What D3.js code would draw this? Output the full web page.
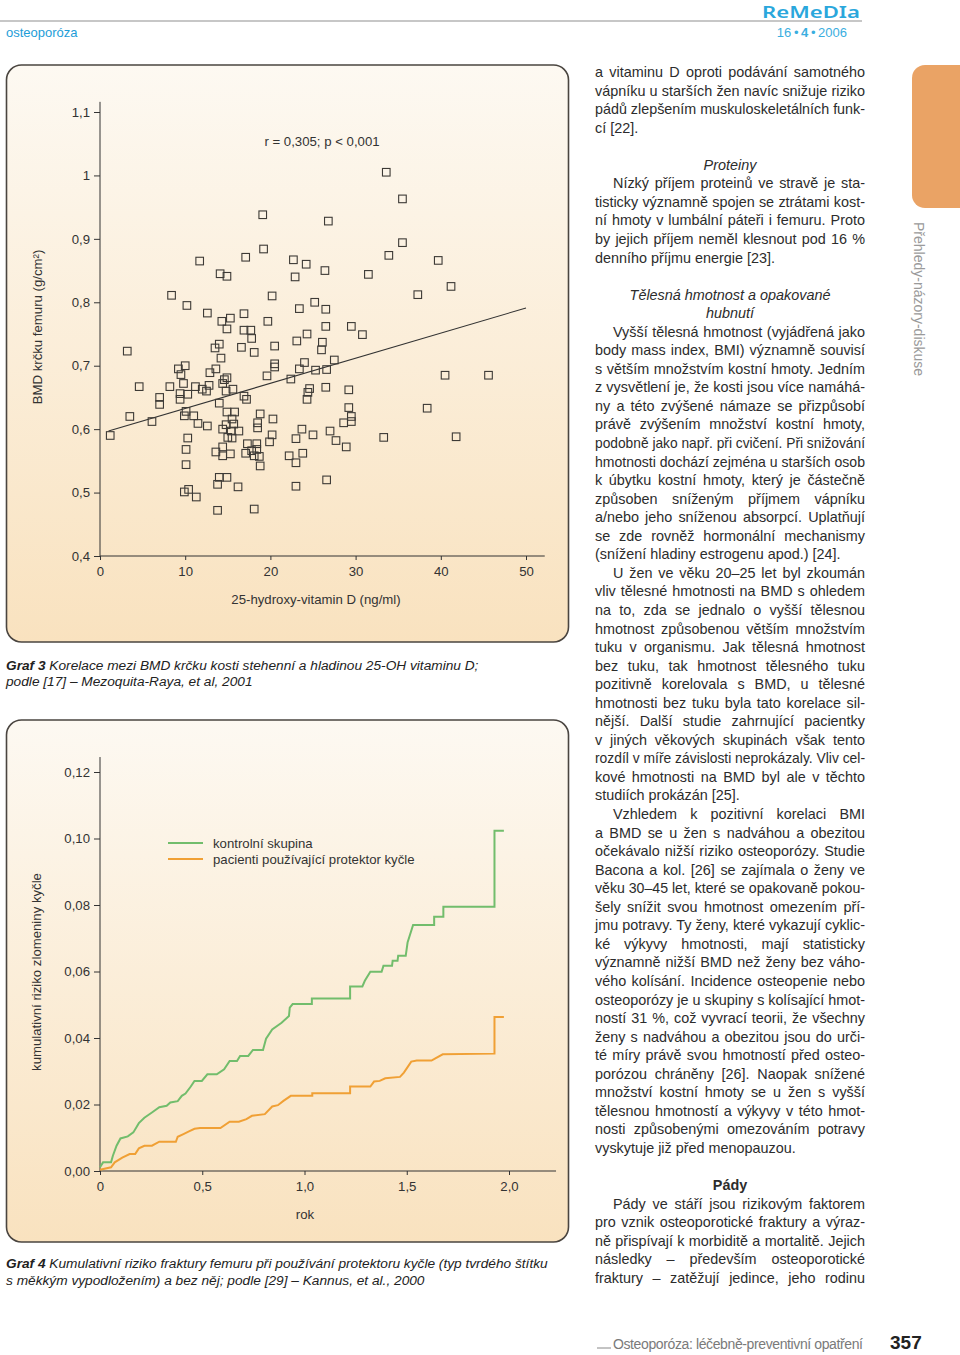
<!DOCTYPE html>
<html>
<head>
<meta charset="utf-8">
<title>Osteoporóza - Graf 3 a Graf 4</title>
<script src="https://cdn.jsdelivr.net/npm/d3@7"></script>
<style>
  body { margin: 0; background: #fff; }
  svg { display: block; font-family: "Liberation Sans", Arial, sans-serif; }
</style>
</head>
<body>
<svg id="page" width="960" height="1355"></svg>
<script>

// ---- Graf 3: BMD vs 25-OH vitamin D ----
let vitaminD = [33.6,35.5,19.1,26.8,35.5,19.2,33.9,11.7,17.1,22.7,24.2,39.7,14.1,14.9,22.9,26.4,31.5,37.3,41.2,8.4,
  20.2,10.2,25.2,12.6,16.9,23.4,26.5,14.3,15.3,19.7,14.9,16.9,17.7,17.8,26.5,29.5,30.8,3.2,14.0,13.5,
  16.6,18.1,20.5,23.1,24.3,26.1,26.0,14.2,27.5,9.2,10.0,9.5,12.9,13.6,20.5,20.5,24.0,23.4,25.3,26.6,
  19.6,22.4,40.5,45.6,4.6,8.2,9.8,11.2,12.0,12.8,14.4,14.6,14.9,12.5,9.4,10.3,14.8,15.6,7.0,7.0,
  9.4,16.9,17.2,24.6,24.4,24.3,26.5,29.2,14.0,3.5,6.1,9.9,10.1,11.0,11.5,12.6,14.9,15.8,15.5,14.8,
  15.7,14.4,15.4,16.3,18.8,18.5,18.5,20.3,29.2,29.5,29.5,28.6,38.4,1.2,10.3,15.0,15.5,23.7,27.0,25.0,
  20.2,19.9,23.0,27.7,28.9,33.3,41.8,10.1,14.4,13.6,14.4,15.3,17.3,18.4,17.1,17.8,18.1,18.7,18.4,22.2,
  23.0,23.8,10.1,18.8,14.0,14.9,13.8,16.2,23.0,26.6,9.9,10.4,11.3,13.8,18.1];
let bmd = [1.005,0.963,0.938,0.928,0.894,0.884,0.874,0.865,0.871,0.867,0.860,0.866,0.845,0.841,0.840,0.850,0.844,0.812,0.825,0.811,
  0.810,0.795,0.800,0.783,0.782,0.790,0.789,0.770,0.775,0.770,0.758,0.756,0.756,0.743,0.762,0.762,0.749,0.723,0.734,0.728,
  0.729,0.721,0.731,0.739,0.750,0.737,0.725,0.712,0.709,0.695,0.700,0.686,0.689,0.695,0.703,0.698,0.705,0.695,0.693,0.694,
  0.684,0.679,0.685,0.685,0.667,0.667,0.672,0.667,0.663,0.669,0.672,0.678,0.681,0.660,0.656,0.655,0.660,0.663,0.650,0.639,
  0.647,0.652,0.647,0.664,0.658,0.647,0.666,0.662,0.641,0.620,0.612,0.621,0.628,0.621,0.609,0.605,0.627,0.627,0.616,0.607,
  0.608,0.600,0.597,0.597,0.624,0.610,0.602,0.616,0.634,0.620,0.612,0.610,0.633,0.590,0.586,0.587,0.586,0.600,0.597,0.591,
  0.591,0.580,0.585,0.582,0.572,0.587,0.588,0.568,0.572,0.564,0.558,0.561,0.577,0.577,0.562,0.566,0.558,0.557,0.568,0.558,
  0.547,0.562,0.544,0.542,0.524,0.524,0.513,0.509,0.510,0.520,0.501,0.505,0.493,0.472,0.474];
let fitX = [1, 50];
let fitY = [0.597, 0.791];
let scatterXTicks = [0, 10, 20, 30, 40, 50];
let scatterYTicks = [0.4, 0.5, 0.6, 0.7, 0.8, 0.9, 1.0, 1.1];
let scatterYLabels = ["0,4", "0,5", "0,6", "0,7", "0,8", "0,9", "1", "1,1"];

// ---- Graf 4: cumulative hip fracture risk (curve vertices) ----
let controlYears = [0,0.015,0.054,0.063,0.081,0.1,0.136,0.163,0.19,0.217,0.254,0.29,0.326,0.344,0.38,0.4,0.418,0.444,0.462,0.498,
  0.525,0.571,0.607,0.634,0.67,0.685,0.725,0.748,0.797,0.812,0.842,0.888,0.924,0.928,0.942,1.036,1.036,1.223,1.223,1.283,
  1.295,1.322,1.377,1.386,1.428,1.431,1.455,1.458,1.495,1.504,1.531,1.634,1.634,1.679,1.679,1.929,1.929,1.975];
let controlRisk = [0.0011,0.0026,0.0026,0.0046,0.0076,0.0098,0.0104,0.0116,0.0144,0.016,0.0176,0.0192,0.0196,0.0206,0.021,0.0226,0.0233,0.0254,0.0271,0.0271,
  0.0291,0.0291,0.0306,0.0331,0.0331,0.0346,0.0346,0.0364,0.0364,0.0398,0.0426,0.0446,0.0466,0.0491,0.0502,0.0502,0.0519,0.0519,0.0555,0.0555,
  0.0572,0.0599,0.0599,0.0617,0.0617,0.0632,0.0632,0.0647,0.0647,0.0687,0.074,0.074,0.0765,0.0765,0.0795,0.0795,0.1023,0.1023];
let protectorYears = [0,0.054,0.072,0.109,0.145,0.172,0.19,0.217,0.254,0.29,0.371,0.38,0.408,0.435,0.462,0.489,0.589,0.634,0.679,0.716,
  0.743,0.806,0.842,0.87,0.897,0.933,1.038,1.038,1.223,1.223,1.322,1.34,1.368,1.395,1.467,1.486,1.522,1.549,1.621,1.64,
  1.676,1.929,1.929,1.975];
let protectorRisk = [0.0004,0.0011,0.0026,0.004,0.0051,0.0051,0.0068,0.0076,0.0076,0.0088,0.0088,0.0103,0.0111,0.0119,0.0127,0.0129,0.0129,0.0148,0.0148,0.0156,
  0.0166,0.0171,0.0194,0.0198,0.0211,0.0226,0.0226,0.0234,0.0234,0.0254,0.0254,0.0269,0.0271,0.0279,0.0283,0.0296,0.0329,0.0332,0.0332,0.0339,
  0.0351,0.0353,0.0463,0.0463];
let riskXTicks = [0, 0.5, 1, 1.5, 2];
let riskXLabels = ["0", "0,5", "1,0", "1,5", "2,0"];
let riskYTicks = [0, 0.02, 0.04, 0.06, 0.08, 0.10, 0.12];
let riskYLabels = ["0,00", "0,02", "0,04", "0,06", "0,08", "0,10", "0,12"];
let seriesNames = ["kontrolní skupina", "pacienti používající protektor kyčle"];
let seriesColors = ["#72bd6c", "#f0a035"];

// ---- article column text ----
let columnLines = [
  ["a vitaminu D oproti podávání samotného","j"],
  ["vápníku u starších žen navíc snižuje riziko","j"],
  ["pádů zlepšením muskuloskeletálních funk-","j"],
  ["cí [22].","e"],
  ["",""],
  ["Proteiny","h"],
  ["Nízký příjem proteinů ve stravě je sta-","i"],
  ["tisticky významně spojen se ztrátami kost-","j"],
  ["ní hmoty v lumbální páteři i femuru. Proto","j"],
  ["by jejich příjem neměl klesnout pod 16 %","j"],
  ["denního příjmu energie [23].","e"],
  ["",""],
  ["Tělesná hmotnost a opakované","h"],
  ["hubnutí","h"],
  ["Vyšší tělesná hmotnost (vyjádřená jako","i"],
  ["body mass index, BMI) významně souvisí","j"],
  ["s větším množstvím kostní hmoty. Jedním","j"],
  ["z vysvětlení je, že kosti jsou více namáhá-","j"],
  ["ny a této zvýšené námaze se přizpůsobí","j"],
  ["právě zvýšením množství kostní hmoty,","j"],
  ["podobně jako např. při cvičení. Při snižování","j"],
  ["hmotnosti dochází zejména u starších osob","j"],
  ["k úbytku kostní hmoty, který je částečně","j"],
  ["způsoben sníženým příjmem vápníku","j"],
  ["a/nebo jeho sníženou absorpcí. Uplatňují","j"],
  ["se zde rovněž hormonální mechanismy","j"],
  ["(snížení hladiny estrogenu apod.) [24].","e"],
  ["U žen ve věku 20–25 let byl zkoumán","i"],
  ["vliv tělesné hmotnosti na BMD s ohledem","j"],
  ["na to, zda se jednalo o vyšší tělesnou","j"],
  ["hmotnost způsobenou větším množstvím","j"],
  ["tuku v organismu. Jak tělesná hmotnost","j"],
  ["bez tuku, tak hmotnost tělesného tuku","j"],
  ["pozitivně korelovala s BMD, u tělesné","j"],
  ["hmotnosti bez tuku byla tato korelace sil-","j"],
  ["nější. Další studie zahrnující pacientky","j"],
  ["v jiných věkových skupinách však tento","j"],
  ["rozdíl v míře závislosti neprokázaly. Vliv cel-","j"],
  ["kové hmotnosti na BMD byl ale v těchto","j"],
  ["studiích prokázán [25].","e"],
  ["Vzhledem k pozitivní korelaci BMI","i"],
  ["a BMD se u žen s nadváhou a obezitou","j"],
  ["očekávalo nižší riziko osteoporózy. Studie","j"],
  ["Bacona a kol. [26] se zajímala o ženy ve","j"],
  ["věku 30–45 let, které se opakovaně pokou-","j"],
  ["šely snížit svou hmotnost omezením pří-","j"],
  ["jmu potravy. Ty ženy, které vykazují cyklic-","j"],
  ["ké výkyvy hmotnosti, mají statisticky","j"],
  ["významně nižší BMD než ženy bez váho-","j"],
  ["vého kolísání. Incidence osteopenie nebo","j"],
  ["osteoporózy je u skupiny s kolísající hmot-","j"],
  ["ností 31 %, což vyvrací teorii, že všechny","j"],
  ["ženy s nadváhou a obezitou jsou do urči-","j"],
  ["té míry právě svou hmotností před osteo-","j"],
  ["porózou chráněny [26]. Naopak snížené","j"],
  ["množství kostní hmoty se u žen s vyšší","j"],
  ["tělesnou hmotností a výkyvy v této hmot-","j"],
  ["nosti způsobenými omezováním potravy","j"],
  ["vyskytuje již před menopauzou.","e"],
  ["",""],
  ["Pády","b"],
  ["Pády ve stáří jsou rizikovým faktorem","i"],
  ["pro vznik osteoporotické fraktury a výraz-","j"],
  ["ně přispívají k morbiditě a mortalitě. Jejich","j"],
  ["následky – především osteoporotické","j"],
  ["fraktury – zatěžují jedince, jeho rodinu","j"]
];

let svg = d3.select("#page");
let ink = "#333";
let chartFont = 13.2;

// panel background gradient
let defs = svg.append("defs");
let grad = defs.append("linearGradient").attr("id", "panelFill")
  .attr("x1", 0).attr("y1", 0).attr("x2", 0).attr("y2", 1);
grad.append("stop").attr("offset", "0%").attr("stop-color", "#fdf9f2");
grad.append("stop").attr("offset", "100%").attr("stop-color", "#f9e2bf");

function panel(top, bottom) {
  svg.append("rect").attr("x", 6.5).attr("y", top).attr("width", 562).attr("height", bottom - top)
    .attr("rx", 15).attr("fill", "url(#panelFill)").attr("stroke", "#4a4540").attr("stroke-width", 1.6);
}

function styleAxis(g) {
  g.select(".domain").remove();
  g.selectAll("line").attr("stroke", ink);
  g.selectAll("text").attr("font-size", chartFont).attr("fill", ink)
    .attr("font-family", "Liberation Sans, Arial, sans-serif");
}

// ---------- header ----------
svg.append("text").attr("x", 762).attr("y", 18).attr("font-family", "Noto Sans, sans-serif")
  .attr("font-size", 16).attr("font-weight", 600).attr("fill", "#2aa7dc")
  .attr("textLength", 98).attr("lengthAdjust", "spacingAndGlyphs").text("ReMeDIa");
svg.append("line").attr("x1", 0).attr("x2", 862).attr("y1", 21).attr("y2", 21)
  .attr("stroke", "#b5b5b5").attr("stroke-width", 1.5);
svg.append("text").attr("x", 6).attr("y", 37).attr("font-size", 13).attr("fill", "#1d9dd8").text("osteoporóza");
let issue = svg.append("text").attr("x", 847).attr("y", 37).attr("text-anchor", "end")
  .attr("font-size", 13).attr("fill", "#3aaee0");
issue.append("tspan").text("16\u2009•\u2009");
issue.append("tspan").attr("font-weight", "bold").text("4");
issue.append("tspan").text("\u2009•\u20092006");

// ---------- Graf 3 ----------
panel(65, 642);
let x1 = d3.scaleLinear().domain([0, 50]).range([100, 526]);
let y1 = d3.scaleLinear().domain([0.4, 1.1]).range([556, 112]);

svg.append("line").attr("x1", x1(0)).attr("x2", x1(52.2)).attr("y1", y1(0.4)).attr("y2", y1(0.4)).attr("stroke", ink);
svg.append("line").attr("x1", x1(0)).attr("x2", x1(0)).attr("y1", y1(0.4)).attr("y2", y1(1.116)).attr("stroke", ink);

svg.append("g").attr("transform", "translate(0," + y1(0.4) + ")")
  .call(d3.axisBottom(x1).tickValues(scatterXTicks).tickFormat(d3.format("d")).tickSize(4).tickPadding(7))
  .call(styleAxis);
svg.append("g").attr("transform", "translate(" + x1(0) + ",0)")
  .call(d3.axisLeft(y1).tickValues(scatterYTicks).tickFormat((d, i) => scatterYLabels[i]).tickSize(6).tickPadding(4))
  .call(styleAxis);

svg.append("line").attr("x1", x1(fitX[0])).attr("y1", y1(fitY[0]))
  .attr("x2", x1(fitX[1])).attr("y2", y1(fitY[1])).attr("stroke", ink).attr("stroke-width", 1.1);

svg.append("g").selectAll("rect").data(vitaminD).enter().append("rect")
  .attr("x", d => x1(d) - 3.8).attr("y", (d, i) => y1(bmd[i]) - 3.8)
  .attr("width", 7.6).attr("height", 7.6)
  .attr("fill", "none").attr("stroke", "#3d3a36").attr("stroke-width", 1.1);

svg.append("text").attr("x", 322).attr("y", 146).attr("text-anchor", "middle")
  .attr("font-size", chartFont).attr("fill", ink).text("r = 0,305; p < 0,001");
svg.append("text").attr("x", 316).attr("y", 604).attr("text-anchor", "middle")
  .attr("font-size", chartFont).attr("fill", ink).text("25-hydroxy-vitamin D (ng/ml)");
svg.append("text").attr("transform", "translate(42,327) rotate(-90)").attr("text-anchor", "middle")
  .attr("font-size", chartFont).attr("fill", ink).text("BMD krčku femuru (g/cm²)");

let cap3 = svg.append("text").attr("x", 6).attr("y", 670).attr("font-size", 13.7)
  .attr("font-style", "italic").attr("fill", "#222");
cap3.append("tspan").attr("font-weight", "bold").text("Graf 3");
cap3.append("tspan").text("  Korelace mezi BMD krčku kosti stehenní a hladinou 25-OH vitaminu D;");
svg.append("text").attr("x", 6).attr("y", 686).attr("font-size", 13.7).attr("font-style", "italic")
  .attr("fill", "#222").text("podle [17] – Mezoquita-Raya, et al, 2001");

// ---------- Graf 4 ----------
panel(720, 1242);
let x2 = d3.scaleLinear().domain([0, 2]).range([100, 509]);
let y2 = d3.scaleLinear().domain([0, 0.12]).range([1171, 772]);

svg.append("line").attr("x1", x2(0)).attr("x2", x2(2.23)).attr("y1", y2(0)).attr("y2", y2(0)).attr("stroke", ink);
svg.append("line").attr("x1", x2(0)).attr("x2", x2(0)).attr("y1", y2(0)).attr("y2", y2(0.1245)).attr("stroke", ink);

svg.append("g").attr("transform", "translate(0," + y2(0) + ")")
  .call(d3.axisBottom(x2).tickValues(riskXTicks).tickFormat((d, i) => riskXLabels[i]).tickSize(4).tickPadding(7))
  .call(styleAxis);
svg.append("g").attr("transform", "translate(" + x2(0) + ",0)")
  .call(d3.axisLeft(y2).tickValues(riskYTicks).tickFormat((d, i) => riskYLabels[i]).tickSize(6).tickPadding(4))
  .call(styleAxis);

let riskLine = d3.line().x(d => x2(d[0])).y(d => y2(d[1]));
svg.append("path").datum(d3.zip(protectorYears, protectorRisk)).attr("d", riskLine).attr("fill", "none")
  .attr("stroke", seriesColors[1]).attr("stroke-width", 2).attr("stroke-linejoin", "miter");
svg.append("path").datum(d3.zip(controlYears, controlRisk)).attr("d", riskLine).attr("fill", "none")
  .attr("stroke", seriesColors[0]).attr("stroke-width", 2).attr("stroke-linejoin", "miter");

let legend = svg.append("g").selectAll("g").data(seriesNames).enter().append("g")
  .attr("transform", (d, i) => "translate(168," + (843 + i * 16) + ")");
legend.append("line").attr("x1", 0).attr("x2", 35).attr("stroke", (d, i) => seriesColors[i]).attr("stroke-width", 2);
legend.append("text").attr("x", 45).attr("y", 5).attr("font-size", chartFont).attr("fill", ink).text(d => d);

svg.append("text").attr("x", 305).attr("y", 1219).attr("text-anchor", "middle")
  .attr("font-size", chartFont).attr("fill", ink).text("rok");
svg.append("text").attr("transform", "translate(41,972) rotate(-90)").attr("text-anchor", "middle")
  .attr("font-size", chartFont).attr("fill", ink).text("kumulativní riziko zlomeniny kyčle");

let cap4 = svg.append("text").attr("x", 6).attr("y", 1268).attr("font-size", 13.7)
  .attr("font-style", "italic").attr("fill", "#222");
cap4.append("tspan").attr("font-weight", "bold").text("Graf 4");
cap4.append("tspan").text("  Kumulativní riziko fraktury femuru při používání protektoru kyčle (typ tvrdého štítku");
svg.append("text").attr("x", 6).attr("y", 1285).attr("font-size", 13.7).attr("font-style", "italic")
  .attr("fill", "#222").text("s měkkým vypodložením) a bez něj; podle [29] – Kannus, et al., 2000");

// ---------- article column ----------
let colLeft = 595, colRight = 865, indent = 18;
let col = svg.append("g").attr("font-size", 14.4).attr("fill", "#2c2c2c");
columnLines.forEach((ln, k) => {
  let txt = ln[0], kind = ln[1];
  if (!txt) return;
  let yb = 77 + k * 18.55;
  let t = col.append("text").attr("y", yb).text(txt);
  if (kind === "h" || kind === "b") {
    t.attr("x", (colLeft + colRight) / 2).attr("text-anchor", "middle");
    if (kind === "h") t.attr("font-style", "italic"); else t.attr("font-weight", "bold");
    return;
  }
  let start = kind === "i" ? colLeft + indent : colLeft;
  t.attr("x", start);
  if (kind === "e") return;
  let target = colRight - start;
  let w = t.node().getComputedTextLength();
  let gaps = txt.split(" ").length - 1;
  if (w > target || gaps === 0) {
    t.attr("textLength", target).attr("lengthAdjust", "spacingAndGlyphs");
  } else {
    t.attr("word-spacing", (target - w) / gaps);
  }
});

// ---------- side tab ----------
svg.append("rect").attr("x", 912).attr("y", 65).attr("width", 70).attr("height", 143)
  .attr("rx", 13).attr("fill", "#eaa365");
svg.append("text").attr("transform", "translate(914,222) rotate(90)")
  .attr("font-size", 14).attr("fill", "#9a9a9a").text("Přehledy-názory-diskuse");

// ---------- footer ----------
svg.append("line").attr("x1", 597).attr("x2", 611).attr("y1", 1348).attr("y2", 1348)
  .attr("stroke", "#888").attr("stroke-width", 1);
svg.append("text").attr("x", 613).attr("y", 1349).attr("font-size", 14).attr("fill", "#7a7a7a")
  .attr("textLength", 250).text("Osteoporóza: léčebně-preventivní opatření");
svg.append("text").attr("x", 890).attr("y", 1349).attr("font-size", 19).attr("font-weight", "bold")
  .attr("fill", "#222").text("357");

</script>
</body>
</html>
